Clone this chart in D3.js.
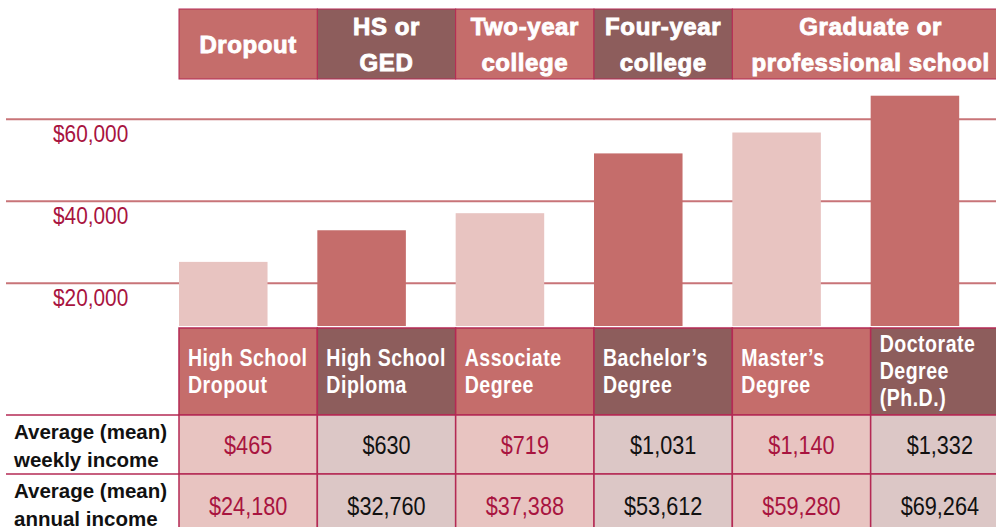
<!DOCTYPE html>
<html>
<head>
<meta charset="utf-8">
<script src="https://cdn.jsdelivr.net/npm/d3@7"></script>
<style>
  body { margin: 0; background: #fff; }
  svg { display: block; }
</style>
</head>
<body>
<div id="chart"></div>
<script>
// degrees, left to right
const degrees = ["Dropout", "Diploma", "Associate", "Bachelor", "Master", "Doctorate"];
const degreeLines = [
    ["High School", "Dropout"],
    ["High School", "Diploma"],
    ["Associate", "Degree"],
    ["Bachelor\u2019s", "Degree"],
    ["Master\u2019s", "Degree"],
    ["Doctorate", "Degree", "(Ph.D.)"]
];
// school type groups on top, and how many degree columns each one covers
const groupLines = [["Dropout"], ["HS or", "GED"], ["Two-year", "college"], ["Four-year", "college"], ["Graduate or", "professional school"]];
const groupSpan = [1, 1, 1, 1, 2];

const weekly = [465, 630, 719, 1031, 1140, 1332];
const annual = [24180, 32760, 37388, 53612, 59280, 69264];

const axisTicks = [20000, 40000, 60000];
const rowLabels = [["Average (mean)", "weekly income"], ["Average (mean)", "annual income"]];

const lightRed = "#c56d6b", darkRed = "#8d5d5c", pink = "#e8c4c1", greyPink = "#dcc7c6";
const crimson = "#a8143f", border = "#b42a54", gridColor = "#c87478";
const sans = "'Liberation Sans', Arial, sans-serif";
// no condensed face installed, so condensed text is squeezed horizontally
const squeeze = 0.85;

const svg = d3.select("#chart")
    .append("svg")
    .attr("width", 996)
    .attr("height", 527);

const x = d3.scaleBand().domain(degrees).range([179, 1009]);
const yBar = d3.scaleLinear().domain([0, 70000]).range([351, 93]);
// the printed gridlines do not sit on the bar scale, so they get their own
const yGrid = d3.scaleLinear().domain([0, 60000]).range([364.7, 118.7]);
const fmt = d3.format("$,");

// gridlines
const grid = svg.append("g")
    .attr("transform", "translate(6,0)")
    .call(d3.axisLeft(yGrid).tickValues(axisTicks).tickSize(-990).tickFormat(""));
grid.select(".domain").remove();
grid.selectAll(".tick line").attr("stroke", gridColor).attr("stroke-width", 2);

svg.append("g")
    .selectAll("text")
    .data(axisTicks)
    .join("text")
    .attr("transform", d => "translate(53," + (yGrid(d) + 23.5) + ") scale(" + squeeze + ",1)")
    .text(fmt)
    .style("font-family", sans)
    .style("font-size", "24.5px")
    .attr("fill", crimson);

// bars (annual income), cut off by the table below
svg.append("clipPath").attr("id", "barclip")
    .append("rect").attr("x", 0).attr("y", 0).attr("width", 996).attr("height", 326);

svg.append("g")
    .attr("clip-path", "url(#barclip)")
    .selectAll("rect")
    .data(annual)
    .join("rect")
    .attr("x", (d, i) => x(degrees[i]))
    .attr("width", x.bandwidth() * 0.64)
    .attr("y", d => yBar(d))
    .attr("height", d => yBar(0) - yBar(d))
    .attr("fill", (d, i) => i % 2 ? lightRed : pink);

// top header band
let start = 0;
const groups = groupLines.map((lines, i) => {
    const s = start;
    start += groupSpan[i];
    const x0 = x(degrees[s]);
    const x1 = start < degrees.length ? x(degrees[start]) : x.range()[1];
    return { lines: lines, x0: x0, x1: x1 };
});

const head = svg.append("g");
head.selectAll("rect")
    .data(groups)
    .join("rect")
    .attr("x", d => d.x0)
    .attr("y", 9)
    .attr("width", d => d.x1 - d.x0)
    .attr("height", 70)
    .attr("fill", (d, i) => i % 2 ? darkRed : lightRed)
    .attr("stroke", border)
    .attr("stroke-width", 1);

head.selectAll("text")
    .data(groups)
    .join("text")
    .attr("text-anchor", "middle")
    .style("font-family", sans)
    .style("font-weight", "bold")
    .style("font-size", "24px")
    .style("letter-spacing", "0.6px")
    .attr("fill", "#fff")
    .attr("stroke", "#fff")
    .attr("stroke-width", 0.9)
    .each(function (d) {
        const cx = (d.x0 + d.x1) / 2;
        const y0 = d.lines.length === 1 ? 53 : 35;
        d3.select(this).selectAll("tspan")
            .data(d.lines)
            .join("tspan")
            .attr("x", cx)
            .attr("y", (t, j) => y0 + j * 36)
            .text(t => t);
    });

// table: header row with degree names
const table = svg.append("g");
table.selectAll("rect.deg")
    .data(degrees)
    .join("rect")
    .attr("class", "deg")
    .attr("x", d => x(d))
    .attr("y", 328)
    .attr("width", x.bandwidth())
    .attr("height", 87)
    .attr("fill", (d, i) => i % 2 ? darkRed : lightRed)
    .attr("stroke", border)
    .attr("stroke-width", 1.5);

table.selectAll("text.deg")
    .data(degreeLines)
    .join("text")
    .attr("class", "deg")
    .attr("transform", (lines, i) => "translate(" + (x(degrees[i]) + 9) + ",0) scale(" + squeeze + ",1)")
    .style("font-family", sans)
    .style("font-weight", "bold")
    .style("font-size", "23px")
    .style("letter-spacing", "0.6px")
    .attr("fill", "#fff")
    .each(function (lines) {
        const y0 = lines.length === 3 ? 352 : 366;
        d3.select(this).selectAll("tspan")
            .data(lines)
            .join("tspan")
            .attr("x", 0)
            .attr("y", (t, j) => y0 + j * 27)
            .text(t => t);
    });

// value rows
const rows = [
    { label: rowLabels[0], values: weekly, y: 415, h: 59 },
    { label: rowLabels[1], values: annual, y: 474, h: 62 }
];

rows.forEach(function (row) {
    const g = table.append("g");
    g.append("line")
        .attr("x1", 6).attr("x2", 179)
        .attr("y1", row.y).attr("y2", row.y)
        .attr("stroke", border).attr("stroke-width", 1.5);

    g.append("text")
        .style("font-family", sans)
        .style("font-weight", "bold")
        .style("font-size", "20.5px")
        .attr("fill", "#111")
        .selectAll("tspan")
        .data(row.label)
        .join("tspan")
        .attr("x", 14)
        .attr("y", (t, j) => row.y + 24 + j * 28)
        .text(t => t);

    g.selectAll("rect")
        .data(row.values)
        .join("rect")
        .attr("x", (d, i) => x(degrees[i]))
        .attr("y", row.y)
        .attr("width", x.bandwidth())
        .attr("height", row.h)
        .attr("fill", (d, i) => i % 2 ? greyPink : pink)
        .attr("stroke", border)
        .attr("stroke-width", 1.5);

    g.selectAll("text.val")
        .data(row.values)
        .join("text")
        .attr("class", "val")
        .attr("transform", (d, i) => "translate(" + (x(degrees[i]) + x.bandwidth() / 2) + "," + (row.y + row.h / 2 + 9.5) + ") scale(" + squeeze + ",1)")
        .attr("text-anchor", "middle")
        .text(fmt)
        .style("font-family", sans)
        .style("font-size", "25.5px")
        .attr("fill", (d, i) => i % 2 ? "#111" : crimson);
});
</script>
</body>
</html>
